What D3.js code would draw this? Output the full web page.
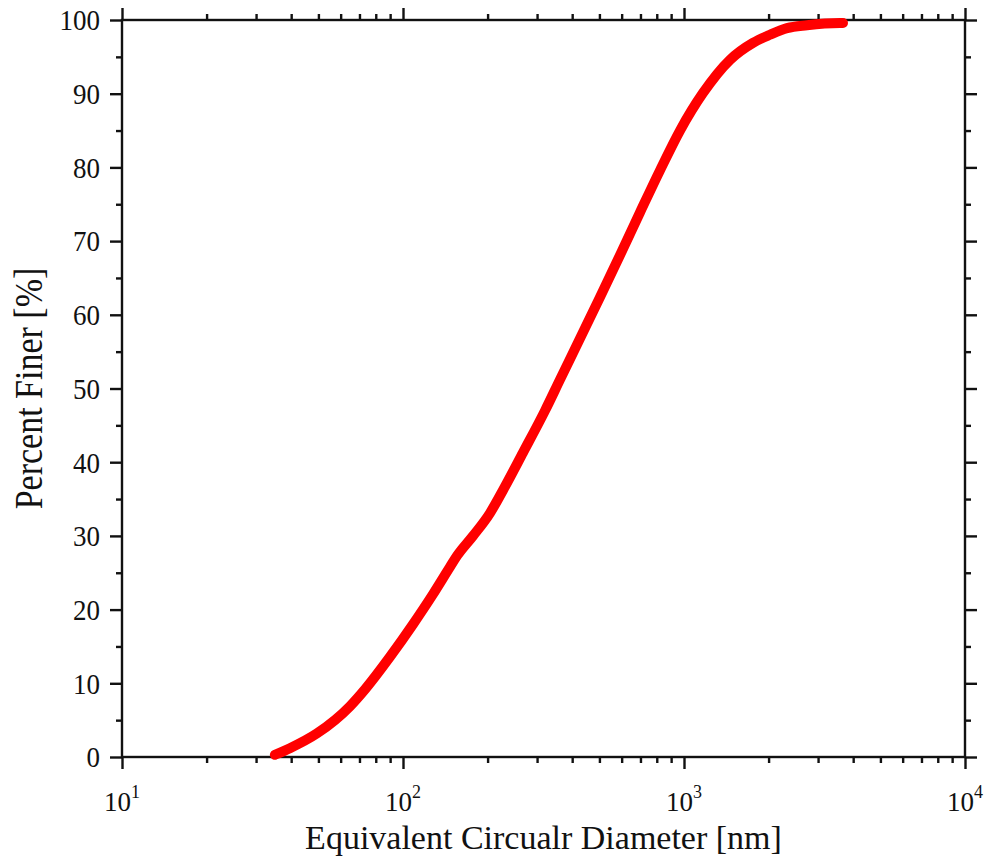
<!DOCTYPE html>
<html>
<head>
<meta charset="utf-8">
<script src="https://cdn.jsdelivr.net/npm/d3@7"></script>
<style>
  html, body { margin: 0; padding: 0; background: #fff; }
  svg { display: block; }
  text { font-family: "Liberation Serif", "Times New Roman", serif; fill: #111; }
</style>
</head>
<body>
<svg id="chart" width="990" height="861"></svg>
<script>
// Cumulative particle size distribution (equivalent circular diameter, nm)
const diameterNm = [35.0, 39.6, 49.4, 64.8, 73.3, 89.9, 108.5, 127.9, 147.0, 155.7,
  177.5, 204.0, 226.9, 267.3, 320.2, 362.0, 426.6, 502.5, 592.0, 697.4, 821.5,
  967.8, 1168.8, 1458, 1760, 2023, 2326, 2740, 3591, 3680];
const percentFiner = [0.3, 1.2, 3.2, 6.9, 9.2, 13.6, 18.0, 22.1, 25.8, 27.3,
  30.0, 33.1, 36.2, 41.3, 47.0, 51.2, 56.8, 62.4, 68.1, 73.9, 79.6,
  85.0, 90.1, 94.6, 96.9, 98.0, 98.9, 99.3, 99.6, 99.6];

const xDecades = [10, 100, 1000, 10000];
const xDecadeExponents = ["1", "2", "3", "4"];
const yMajorTicks = [0, 10, 20, 30, 40, 50, 60, 70, 80, 90, 100];
const yMinorTicks = [5, 15, 25, 35, 45, 55, 65, 75, 85, 95];

const xTitle = "Equivalent Circualr Diameter [nm]";
const yTitle = "Percent Finer [%]";

const margin = { left: 122, right: 25, top: 20, bottom: 104 };
const W = 990, H = 861;
const iw = W - margin.left - margin.right;
const ih = H - margin.top - margin.bottom;

const svg = d3.select("#chart");
const g = svg.append("g").attr("transform", `translate(${margin.left},${margin.top})`);

const x = d3.scaleLog().domain([10, 10000]).range([0, iw]);
const y = d3.scaleLinear().domain([0, 100]).range([ih, 0]);

// minor log ticks 2..9 within each decade
const xMinor = [];
xDecades.slice(0, -1).forEach(d => { for (let k = 2; k <= 9; k++) xMinor.push(d * k); });

const majorLen = 12, minorLen = 6, axisW = 2.4;

function styleAxis(sel) {
  sel.select(".domain").remove();
  sel.selectAll("line").attr("stroke", "#111").attr("stroke-width", axisW);
  sel.selectAll("text").remove();
}

// bottom axis
g.append("g").attr("transform", `translate(0,${ih})`)
  .call(d3.axisBottom(x).tickValues(xDecades).tickSize(majorLen)).call(styleAxis);
g.append("g").attr("transform", `translate(0,${ih})`)
  .call(d3.axisBottom(x).tickValues(xMinor).tickSize(minorLen)).call(styleAxis);
// top axis
g.append("g").call(d3.axisTop(x).tickValues(xDecades).tickSize(majorLen)).call(styleAxis);
g.append("g").call(d3.axisTop(x).tickValues(xMinor).tickSize(minorLen)).call(styleAxis);
// left axis
g.append("g").call(d3.axisLeft(y).tickValues(yMajorTicks).tickSize(majorLen)).call(styleAxis);
g.append("g").call(d3.axisLeft(y).tickValues(yMinorTicks).tickSize(minorLen)).call(styleAxis);
// right axis
g.append("g").attr("transform", `translate(${iw},0)`)
  .call(d3.axisRight(y).tickValues(yMajorTicks).tickSize(majorLen)).call(styleAxis);
g.append("g").attr("transform", `translate(${iw},0)`)
  .call(d3.axisRight(y).tickValues(yMinorTicks).tickSize(minorLen)).call(styleAxis);

// frame
g.append("rect").attr("x", 0).attr("y", 0).attr("width", iw).attr("height", ih)
  .attr("fill", "none").attr("stroke", "#111").attr("stroke-width", axisW);

// tall serif glyphs: stretch text perpendicular to its baseline
const tickStretch = 1.1, titleStretch = 1.2;

// y tick labels
g.append("g").selectAll("text").data(yMajorTicks).join("text")
  .attr("transform", d => `translate(-22,${y(d)}) scale(1,${tickStretch})`)
  .attr("dy", "0.35em")
  .attr("text-anchor", "end").attr("font-size", 27)
  .text(d => d);

// x tick labels: 10 with superscript exponent
const xl = g.append("g").selectAll("text").data(xDecades).join("text")
  .attr("x", d => x(d)).attr("y", ih + 54)
  .attr("text-anchor", "middle").attr("font-size", 27);
xl.append("tspan").text("10");
xl.append("tspan").attr("font-size", 18).attr("dy", -13).text((d, i) => xDecadeExponents[i]);

// axis titles
g.append("text").attr("x", iw / 2).attr("y", ih + 92)
  .attr("text-anchor", "middle").attr("font-size", 34).text(xTitle);
g.append("text")
  .attr("transform", `translate(${-80},${ih / 2}) rotate(-90) scale(1,${titleStretch})`)
  .attr("text-anchor", "middle").attr("font-size", 34).text(yTitle);

// distribution curve
const line = d3.line().x((d, i) => x(diameterNm[i])).y((d, i) => y(percentFiner[i]))
  .curve(d3.curveMonotoneX);
g.append("path").datum(percentFiner).attr("d", line)
  .attr("fill", "none").attr("stroke", "#ff0000").attr("stroke-width", 10)
  .attr("stroke-linecap", "round").attr("stroke-linejoin", "round");
</script>
</body>
</html>
